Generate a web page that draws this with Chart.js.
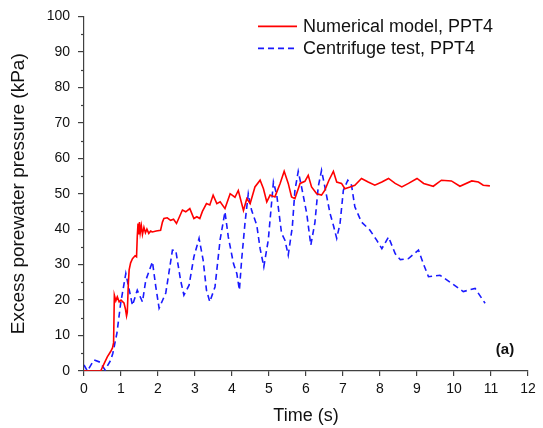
<!DOCTYPE html>
<html>
<head>
<meta charset="utf-8">
<script src="https://cdn.jsdelivr.net/npm/chart.js@4.4.1/dist/chart.umd.min.js"></script>
<style>
  html, body { margin: 0; padding: 0; background: #fff; }
  #wrap { width: 543px; height: 428px; position: relative; }
</style>
</head>
<body>
<div id="wrap"><canvas id="ppt4Chart" width="543" height="428"></canvas></div>
<script>
// -----------------------------
// DATA
// -----------------------------
const numTime = [0, 0.45, 0.55, 0.63, 0.72, 0.77, 0.80, 0.82, 0.86, 0.9, 0.95, 1.0, 1.08, 1.12, 1.15, 1.17, 1.20, 1.22, 1.26, 1.31, 1.38, 1.42, 1.44, 1.46, 1.48, 1.50, 1.52, 1.55, 1.58, 1.62, 1.66, 1.70, 1.75, 1.80, 1.85, 1.95, 2.07, 2.12, 2.16, 2.25, 2.34, 2.42, 2.5, 2.58, 2.66, 2.75, 2.86, 2.97, 3.05, 3.13, 3.2, 3.31, 3.4, 3.49, 3.59, 3.68, 3.81, 3.95, 4.08, 4.17, 4.31, 4.4, 4.49, 4.62, 4.76, 4.85, 4.94, 5.03, 5.16, 5.3, 5.41, 5.52, 5.61, 5.7, 5.84, 5.97, 6.06, 6.15, 6.29, 6.42, 6.51, 6.62, 6.74, 6.83, 6.96, 7.05, 7.19, 7.32, 7.5, 7.68, 7.86, 8.05, 8.23, 8.41, 8.59, 8.77, 9.0, 9.18, 9.44, 9.66, 9.93, 10.16, 10.48, 10.66, 10.79, 10.97];
const numPressure = [0, 0, 2.2, 4.0, 5.5, 6.5, 8, 21.4, 19.8, 20.9, 19.5, 20, 19.2, 17.5, 15.5, 16.5, 25, 28.5, 30.5, 31.7, 32.5, 32.2, 38, 41.6, 38.5, 42, 39, 41, 38.5, 40.5, 39, 40, 38.8, 39.5, 39.2, 39.5, 39.7, 42, 43, 43.2, 42.5, 42.8, 41.6, 43.5, 45.4, 44.9, 45.8, 43, 43.5, 43, 45, 47.2, 46.8, 49.6, 47.2, 47.7, 45.8, 50, 49, 50.9, 45.3, 48.6, 47.2, 51.9, 53.8, 51.4, 47.7, 49.6, 49.1, 52.9, 56.3, 52.9, 49.1, 48.6, 52.9, 53.5, 55.2, 51.9, 50, 49.6, 51, 53.8, 56.3, 53.3, 52.9, 51.4, 51.9, 52.4, 54.3, 53.3, 52.4, 53.3, 54.3, 52.9, 51.9, 52.9, 54.3, 52.9, 52.1, 53.8, 53.6, 52.1, 53.6, 53.3, 52.4, 52.2];

const expTime = [0, 0.09, 0.27, 0.43, 0.57, 0.72, 0.78, 0.89, 0.99, 1.13, 1.2, 1.31, 1.44, 1.58, 1.67, 1.85, 1.94, 2.03, 2.21, 2.39, 2.48, 2.61, 2.7, 2.84, 2.97, 3.11, 3.22, 3.31, 3.4, 3.54, 3.68, 3.81, 3.9, 4.04, 4.13, 4.2, 4.26, 4.35, 4.44, 4.53, 4.67, 4.76, 4.86, 4.98, 5.12, 5.21, 5.34, 5.43, 5.52, 5.63, 5.7, 5.79, 5.88, 6.02, 6.13, 6.24, 6.33, 6.42, 6.51, 6.65, 6.74, 6.83, 6.92, 7.01, 7.13, 7.23, 7.32, 7.5, 7.73, 7.91, 8.05, 8.23, 8.41, 8.55, 8.77, 9.04, 9.17, 9.31, 9.62, 9.94, 10.25, 10.57, 10.84];
const expPressure = [1.7, 0, 3.1, 2.5, 0.3, 3, 5, 10.7, 19, 27.5, 24, 18.5, 22.8, 19.5, 25.6, 30.8, 23.8, 17.7, 22, 34.1, 34, 25.6, 21.4, 24.2, 32.2, 37.4, 31.3, 22.8, 19.5, 23.7, 37.1, 44.9, 37.8, 30.3, 27.5, 22.8, 31.3, 41.6, 50, 45.3, 41.1, 34.5, 29.4, 36.9, 53.3, 49.6, 38.8, 36.9, 32.7, 40.6, 50.9, 56.3, 51.9, 44.4, 35.5, 41.8, 51.9, 56.6, 51.9, 44.4, 41.1, 37.4, 41.6, 51, 53.8, 52.4, 46.3, 42, 39.7, 36.9, 34.5, 37.8, 33.1, 31.4, 31.7, 34.1, 30.3, 26.6, 27, 24.7, 22.4, 23.3, 19.1];

const seriesLabels = ["Numerical model, PPT4", "Centrifuge test, PPT4"];
const panelLabel = "(a)";

const FONT = "'Liberation Sans', Arial, sans-serif";
const AXIS_COLOR = "#404040";

// -----------------------------
// small plugins: minor y ticks, line legend, panel tag
// -----------------------------
const minorTicks = {
    id: "minorTicks",
    afterDraw(chart) {
        const y = chart.scales.y;
        const ctx = chart.ctx;
        ctx.save();
        ctx.strokeStyle = AXIS_COLOR;
        ctx.lineWidth = 1.2;
        for (let v = 5; v < 100; v += 10) {
            const py = Math.round(y.getPixelForValue(v)) + 0.5;
            ctx.beginPath();
            ctx.moveTo(y.right - 3, py);
            ctx.lineTo(y.right, py);
            ctx.stroke();
        }
        ctx.restore();
    }
};

const lineLegend = {
    id: "lineLegend",
    afterDraw(chart) {
        const ctx = chart.ctx;
        const area = chart.chartArea;
        ctx.save();
        ctx.font = "18px " + FONT;
        ctx.textBaseline = "middle";
        chart.data.datasets.forEach((ds, i) => {
            const yy = area.top + 10 + i * 22;
            const x0 = area.right - 270;
            ctx.strokeStyle = ds.borderColor;
            ctx.lineWidth = ds.borderWidth;
            ctx.setLineDash(ds.borderDash || []);
            ctx.beginPath();
            ctx.moveTo(x0, yy);
            ctx.lineTo(x0 + 39, yy);
            ctx.stroke();
            ctx.setLineDash([]);
            ctx.fillStyle = "#111";
            ctx.fillText(ds.label, x0 + 45, yy + 1);
        });
        ctx.font = "bold 15px " + FONT;
        ctx.textAlign = "center";
        ctx.fillText(panelLabel, area.right - 23, area.bottom - 21);
        ctx.restore();
    }
};

// -----------------------------
// CHART
// -----------------------------
new Chart(document.getElementById("ppt4Chart"), {
    type: "line",
    data: {
        datasets: [{
            label: seriesLabels[0],
            data: numTime.map((t, i) => ({ x: t, y: numPressure[i] })),
            borderColor: "#ff0000",
            borderWidth: 1.6,
            pointRadius: 0,
            tension: 0,
            fill: false
        }, {
            label: seriesLabels[1],
            data: expTime.map((t, i) => ({ x: t, y: expPressure[i] })),
            borderColor: "#1a1aff",
            borderWidth: 1.6,
            borderDash: [6, 4],
            pointRadius: 0,
            tension: 0,
            fill: false
        }]
    },
    options: {
        responsive: false,
        animation: false,
        devicePixelRatio: 1,
        layout: { padding: { top: 16, right: 15, bottom: 0, left: 0 } },
        plugins: {
            legend: { display: false },
            tooltip: { enabled: false }
        },
        scales: {
            x: {
                type: "linear",
                min: 0,
                max: 12,
                afterFit(scale) { scale.height = 57; },
                ticks: {
                    stepSize: 1,
                    color: "#111",
                    padding: 5,
                    maxRotation: 0,
                    font: { size: 14, family: FONT }
                },
                grid: {
                    drawOnChartArea: false,
                    tickLength: 5,
                    color: AXIS_COLOR,
                    lineWidth: 1.2
                },
                border: { color: AXIS_COLOR, width: 1.2 },
                title: {
                    display: true,
                    text: "Time (s)",
                    color: "#111",
                    padding: { top: 0, bottom: 1 },
                    font: { size: 18, family: FONT }
                }
            },
            y: {
                min: 0,
                max: 100,
                afterFit(scale) { scale.width = 84; },
                ticks: {
                    stepSize: 10,
                    color: "#111",
                    padding: 8,
                    font: { size: 14, family: FONT }
                },
                grid: {
                    drawOnChartArea: false,
                    tickLength: 6,
                    color: AXIS_COLOR,
                    lineWidth: 1.2
                },
                border: { color: AXIS_COLOR, width: 1.2 },
                title: {
                    display: true,
                    text: "Excess porewater pressure (kPa)",
                    color: "#111",
                    padding: { top: 7, bottom: 0 },
                    font: { size: 19, family: FONT }
                }
            }
        }
    },
    plugins: [minorTicks, lineLegend]
});
</script>
</body>
</html>
